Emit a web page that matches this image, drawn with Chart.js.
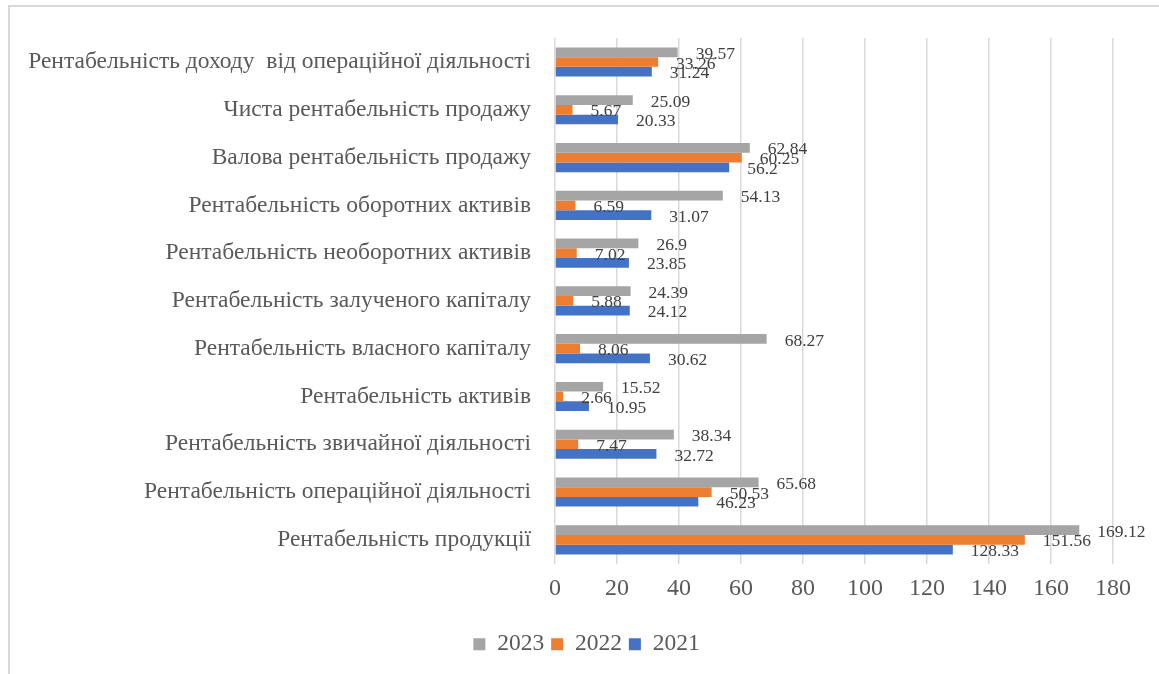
<!DOCTYPE html>
<html>
<head>
<meta charset="utf-8">
<script src="https://cdn.jsdelivr.net/npm/chart.js@4.4.1/dist/chart.umd.min.js"></script>
<style>
  html, body { margin: 0; padding: 0; background: #fff; }
  #frame { position: absolute; left: 8px; top: 5px; width: 1160px; height: 680px;
           border-top: 2px solid #d9d9d9; border-left: 2px solid #d9d9d9; }
  #can { position: absolute; left: 0; top: 0; width: 1159px; height: 674px; }
</style>
</head>
<body>
<div id="frame"></div>
<div id="can"><canvas id="chart"></canvas></div>
<script>
let categories = [
  'Рентабельність доходу  від операційної діяльності',
  'Чиста рентабельність продажу',
  'Валова рентабельність продажу',
  'Рентабельність оборотних активів',
  'Рентабельність необоротних активів',
  'Рентабельність залученого капіталу',
  'Рентабельність власного капіталу',
  'Рентабельність активів',
  'Рентабельність звичайної діяльності',
  'Рентабельність операційної діяльності',
  'Рентабельність продукції'
]

let years = ['2023', '2022', '2021']
let v2023 = [39.57, 25.09, 62.84, 54.13, 26.9, 24.39, 68.27, 15.52, 38.34, 65.68, 169.12]
let v2022 = [33.26, 5.67, 60.25, 6.59, 7.02, 5.88, 8.06, 2.66, 7.47, 50.53, 151.56]
let v2021 = [31.24, 20.33, 56.2, 31.07, 23.85, 24.12, 30.62, 10.95, 32.72, 46.23, 128.33]

const serif = "'Liberation Serif', 'Times New Roman', serif"
const textGrey = '#595959'

let data = {
  labels: categories,
  datasets: [{
    label: years[0],
    backgroundColor: '#a5a5a5',
    data: v2023,
  }, {
    label: years[1],
    backgroundColor: '#ed7d31',
    data: v2022,
  }, {
    label: years[2],
    backgroundColor: '#4472c4',
    data: v2021,
  }]
}

// value labels next to the bar ends
const valueLabels = {
  id: 'valueLabels',
  afterDatasetsDraw(chart) {
    let ctx = chart.ctx
    ctx.save()
    ctx.font = '17.5px ' + serif
    ctx.fillStyle = '#404040'
    ctx.textAlign = 'left'
    ctx.textBaseline = 'middle'
    chart.data.datasets.forEach((ds, i) => {
      chart.getDatasetMeta(i).data.forEach((bar, j) => {
        ctx.fillText(String(ds.data[j]), bar.x + 18, bar.y + 2)
      })
    })
    ctx.restore()
  }
}

// legend sits a bit right of the canvas centre in the original
const legendShift = {
  id: 'legendShift',
  afterLayout(chart) {
    chart.legend.left += 30
    chart.legend.right += 30
  }
}

const config = {
  type: 'bar',
  data: data,
  plugins: [valueLabels, legendShift],
  options: {
    indexAxis: 'y',
    responsive: true,
    maintainAspectRatio: false,
    animation: false,
    layout: {
      padding: { top: 34, right: 46, bottom: 8, left: 0 }
    },
    datasets: {
      bar: {
        barPercentage: 1,
        categoryPercentage: 0.61
      }
    },
    scales: {
      x: {
        min: 0,
        max: 180,
        afterFit: (scale) => { scale.height += 11 },
        ticks: {
          stepSize: 20,
          padding: 11,
          color: textGrey,
          font: { size: 24, family: serif }
        },
        grid: {
          color: '#d9d9d9',
          lineWidth: 1.5,
          drawTicks: false
        },
        border: { display: false }
      },
      y: {
        afterFit: (scale) => { scale.width = 555 },
        ticks: {
          padding: 24,
          color: textGrey,
          font: { size: 23.5, family: serif }
        },
        grid: { display: false, drawTicks: false },
        border: { display: false }
      }
    },
    plugins: {
      legend: {
        position: 'bottom',
        labels: {
          boxWidth: 12,
          boxHeight: 12,
          padding: 7,
          color: textGrey,
          font: { size: 23.5, family: serif }
        }
      },
      tooltip: { enabled: false }
    }
  }
}

const chart = new Chart(document.getElementById('chart'), config)
</script>
</body>
</html>
